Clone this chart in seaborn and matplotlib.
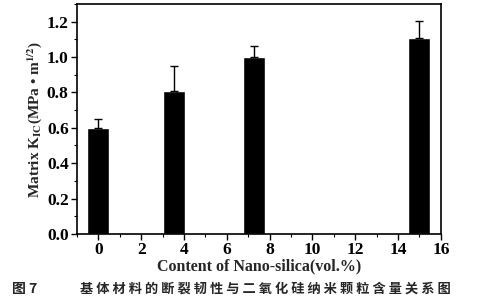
import matplotlib
matplotlib.use("Agg")
import matplotlib.pyplot as plt
import seaborn as sns
import numpy as np
import pandas as pd
from matplotlib.ticker import MultipleLocator

content = [0, 3.55, 7.25, 15]
kic = [0.60, 0.81, 1.00, 1.11]
err = [0.05, 0.14, 0.065, 0.095]
xticks = [0, 2, 4, 6, 8, 10, 12, 14, 16]
yticks = [0.0, 0.2, 0.4, 0.6, 0.8, 1.0, 1.2]

sns.set_theme(style="ticks")
plt.rcParams['font.family'] = ['Liberation Serif', 'DejaVu Serif']
plt.rcParams['mathtext.fontset'] = 'stix'

fig = plt.figure(figsize=(4.92, 3.05), dpi=100)
ax = fig.add_axes([0.1565, 0.233, 0.7395, 0.754])

df = pd.DataFrame({"content": content, "kic": kic})
gap = np.min(np.diff(sorted(content)))
sns.barplot(data=df, x="content", y="kic", native_scale=True, width=1.03 / gap,
            color="black", saturation=1, errorbar=None, ax=ax)
ax.errorbar(content, kic, yerr=[np.zeros(len(err)), err], fmt="none",
            ecolor="black", elinewidth=1.0, capsize=3, capthick=1.0)

ax.set_xlim(-1, 16)
ax.set_ylim(0, 1.3)
ax.set_xticks(xticks)
ax.set_yticks(yticks)
ax.set_xticklabels([str(t) for t in xticks], fontweight="bold", fontsize=12.5)
ax.set_yticklabels([f"{t:.1f}" for t in yticks], fontweight="bold", fontsize=12.5)
ax.xaxis.set_minor_locator(MultipleLocator(1))
ax.yaxis.set_minor_locator(MultipleLocator(0.1))
ax.tick_params(which="major", direction="out", length=4, width=1, pad=2, colors="black")
ax.tick_params(which="minor", direction="out", length=2, width=0.8, colors="black")
for s in ax.spines.values():
    s.set_linewidth(1.2)
    s.set_color("black")

ax.set_xlabel("Content of Nano-silica(vol.%)", fontweight="bold", fontsize=11.5, labelpad=0)
ax.set_ylabel(r"Matrix K$_{\mathbf{IC}}$(MPa • m$^{\mathbf{1/2}}$)", fontweight="bold", fontsize=11, labelpad=2)

fig.text(0.025, 0.04, "图 7", fontsize=10, fontweight="bold",
         family=["Noto Sans CJK SC", "DejaVu Sans"])
fig.text(0.163, 0.04, "基 体 材 料 的 断 裂 韧 性 与 二 氧 化 硅 纳 米 颗 粒 含 量 关 系 图",
         fontsize=9.5, fontweight="bold", family=["Noto Sans CJK SC", "DejaVu Sans"])

fig.savefig("out.png", dpi=100)
